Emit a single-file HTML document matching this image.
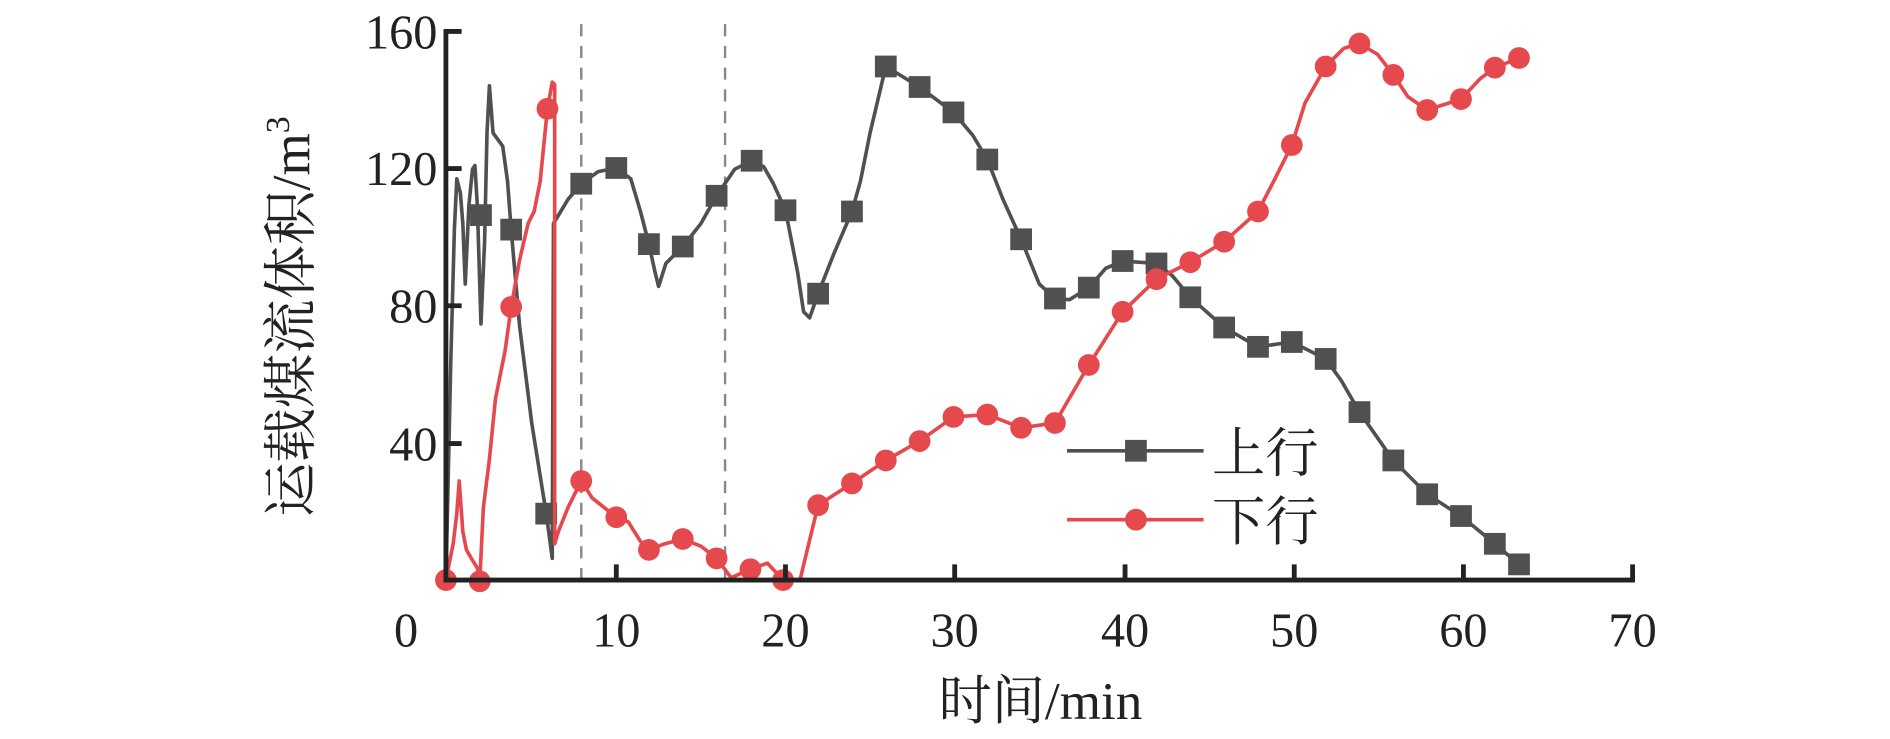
<!DOCTYPE html>
<html><head><meta charset="utf-8"><style>
html,body{margin:0;padding:0;background:#fff;}
svg{display:block;}
text{font-family:"Liberation Serif","Noto Serif CJK SC","Noto Sans CJK SC",serif;fill:#222;}
</style></head><body>
<svg width="1890" height="739" viewBox="0 0 1564 611.5" preserveAspectRatio="none" xmlns="http://www.w3.org/2000/svg">
<rect width="1564" height="611.5" fill="#fff"/>
<line x1="481" y1="20" x2="481" y2="480" stroke="#888" stroke-width="2" stroke-dasharray="10,8"/>
<line x1="600" y1="20" x2="600" y2="480" stroke="#888" stroke-width="2" stroke-dasharray="10,8"/>
<polyline fill="none" stroke="#505050" stroke-width="3" stroke-linejoin="round" points="369,480 373,300 376,190 378,148 381,160 383,185 385,235 388,170 391,140 393,137 395,170 398,268 401,200 403,110 405,71 408,110 416,121 420,150 423,190 430,270 440,350 452,425 457,462 458,185 470,165 481,152 495,142 510,139 522,148 530,175 537,202 542,225 545,237 551,218 565,204 580,185 593,162 608,140 622,133 632,138 640,152 650,174 660,225 665,258 670,263 677,243 690,210 705,175 712,150 720,110 733,55 761,72 789,93 805,112 817,132 830,165 845,198 860,235 873,247 885,248 901,238 915,222 929,216 957,218 970,228 985,246 1013,271 1041,287 1069,283 1097,297 1110,315 1125,341 1153,381 1181,409 1209,427 1237,450 1257,467"/>
<g fill="#505050">
<rect x="389" y="169" width="18" height="18"/><rect x="414" y="181" width="18" height="18"/><rect x="443" y="416" width="18" height="18"/><rect x="472" y="143" width="18" height="18"/><rect x="501" y="130" width="18" height="18"/><rect x="528" y="193" width="18" height="18"/><rect x="556" y="195" width="18" height="18"/><rect x="584" y="153" width="18" height="18"/><rect x="613" y="124" width="18" height="18"/><rect x="641" y="165" width="18" height="18"/><rect x="668" y="234" width="18" height="18"/><rect x="696" y="166" width="18" height="18"/><rect x="724" y="46" width="18" height="18"/><rect x="752" y="63" width="18" height="18"/><rect x="780" y="84" width="18" height="18"/><rect x="808" y="123" width="18" height="18"/><rect x="836" y="189" width="18" height="18"/><rect x="864" y="238" width="18" height="18"/><rect x="892" y="229" width="18" height="18"/><rect x="920" y="207" width="18" height="18"/><rect x="948" y="209" width="18" height="18"/><rect x="976" y="237" width="18" height="18"/><rect x="1004" y="262" width="18" height="18"/><rect x="1032" y="278" width="18" height="18"/><rect x="1060" y="274" width="18" height="18"/><rect x="1088" y="288" width="18" height="18"/><rect x="1116" y="332" width="18" height="18"/><rect x="1144" y="372" width="18" height="18"/><rect x="1172" y="400" width="18" height="18"/><rect x="1200" y="418" width="18" height="18"/><rect x="1228" y="441" width="18" height="18"/><rect x="1248" y="458" width="18" height="18"/>
</g>
<polyline fill="none" stroke="#e5484d" stroke-width="3" stroke-linejoin="round" points="369,480 375,450 378,425 380,398 383,440 386,455 390,462 395,470 397,481 400,420 405,380 410,330 418,290 423,254 430,215 437,185 442,175 447,150 453,90 457,68 459,70 459,450 462,440 470,420 481,398 490,412 500,420 510,428 520,432 530,448 537,455 550,450 565,446 580,452 593,462 605,478 621,471 635,466 648,480 662,480 668,455 677,418 705,400 733,381 761,365 789,345 817,343 845,354 873,350 901,302 929,258 957,231 985,217 1013,200 1041,175 1055,148 1069,120 1080,85 1097,55 1112,40 1125,36 1140,45 1153,62 1165,80 1181,91 1209,82 1225,65 1237,56 1257,48"/>
<g fill="#e5484d">
<circle cx="369" cy="480" r="9"/><circle cx="397" cy="481" r="9"/><circle cx="423" cy="254" r="9"/><circle cx="453" cy="90" r="9"/><circle cx="481" cy="398" r="9"/><circle cx="510" cy="428" r="9"/><circle cx="537" cy="455" r="9"/><circle cx="565" cy="446" r="9"/><circle cx="593" cy="462" r="9"/><circle cx="621" cy="471" r="9"/><circle cx="648" cy="480" r="9"/><circle cx="677" cy="418" r="9"/><circle cx="705" cy="400" r="9"/><circle cx="733" cy="381" r="9"/><circle cx="761" cy="365" r="9"/><circle cx="789" cy="345" r="9"/><circle cx="817" cy="343" r="9"/><circle cx="845" cy="354" r="9"/><circle cx="873" cy="350" r="9"/><circle cx="901" cy="302" r="9"/><circle cx="929" cy="258" r="9"/><circle cx="957" cy="231" r="9"/><circle cx="985" cy="217" r="9"/><circle cx="1013" cy="200" r="9"/><circle cx="1041" cy="175" r="9"/><circle cx="1069" cy="120" r="9"/><circle cx="1097" cy="55" r="9"/><circle cx="1125" cy="36" r="9"/><circle cx="1153" cy="62" r="9"/><circle cx="1181" cy="91" r="9"/><circle cx="1209" cy="82" r="9"/><circle cx="1237" cy="56" r="9"/><circle cx="1257" cy="48" r="9"/>
</g>
<g stroke="#222" stroke-width="4" fill="none">
<line x1="369" y1="24" x2="369" y2="482"/>
<line x1="367" y1="480" x2="1353" y2="480"/>
<line x1="369" y1="26" x2="382" y2="26"/><line x1="369" y1="139.5" x2="382" y2="139.5"/><line x1="369" y1="253" x2="382" y2="253"/><line x1="369" y1="367" x2="382" y2="367"/>
<line x1="510" y1="480" x2="510" y2="467"/><line x1="650" y1="480" x2="650" y2="467"/><line x1="790" y1="480" x2="790" y2="467"/><line x1="931" y1="480" x2="931" y2="467"/><line x1="1071" y1="480" x2="1071" y2="467"/><line x1="1211" y1="480" x2="1211" y2="467"/><line x1="1351" y1="480" x2="1351" y2="467"/>
</g>
<g font-size="40" text-anchor="end">
<text x="362" y="40">160</text><text x="362" y="153">120</text><text x="362" y="267">80</text><text x="362" y="381">40</text>
</g>
<g font-size="40" text-anchor="middle">
<text x="336" y="535">0</text><text x="510" y="535">10</text><text x="650" y="535">20</text><text x="790" y="535">30</text><text x="931" y="535">40</text><text x="1071" y="535">50</text><text x="1211" y="535">60</text><text x="1351" y="535">70</text>
</g>
<text x="861" y="595" font-size="44" text-anchor="middle">时间/min</text>
<text transform="translate(256,262) rotate(-90)" font-size="45" text-anchor="middle">运载煤流体积/m<tspan font-size="28" dy="-17">3</tspan></text>
<line x1="883" y1="373" x2="996" y2="373" stroke="#505050" stroke-width="3"/>
<rect x="931" y="364" width="18" height="18" fill="#505050"/>
<text x="1003" y="390" font-size="44">上行</text>
<line x1="883" y1="430" x2="996" y2="430" stroke="#e5484d" stroke-width="3"/>
<circle cx="940" cy="430" r="9" fill="#e5484d"/>
<text x="1003" y="447" font-size="44">下行</text>
</svg>
</body></html>
